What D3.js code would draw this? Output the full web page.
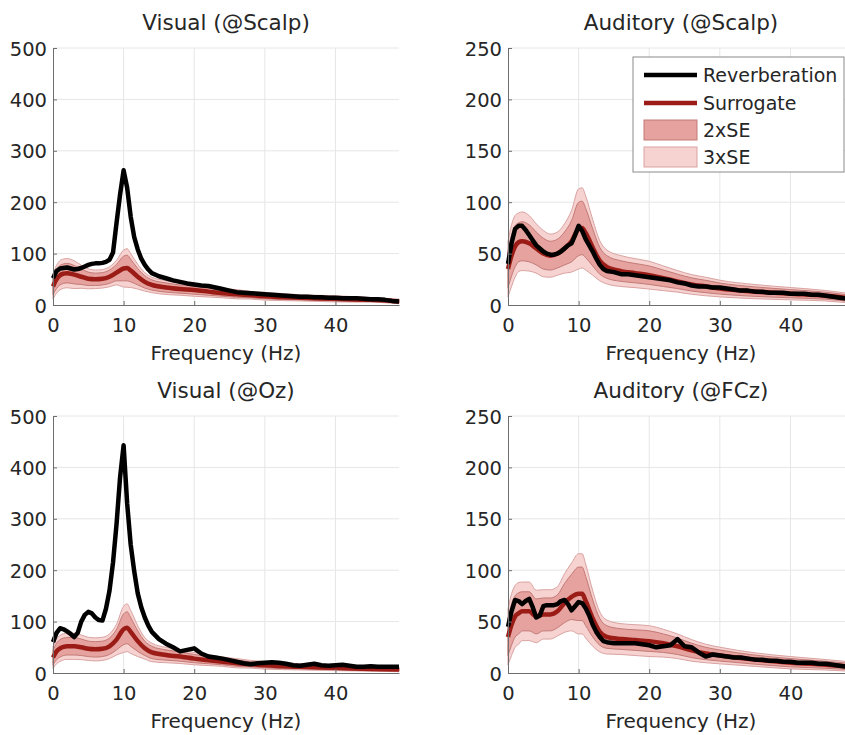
<!DOCTYPE html>
<html>
<head>
<meta charset="utf-8">
<script src="https://cdn.jsdelivr.net/npm/d3@7"></script>
<style>
    body { margin: 0; background: #fff; }
    svg text { font-family: 'DejaVu Sans', sans-serif; fill: #262626; }
</style>
</head>
<body>
<div id="fig"></div>
<script>
// Frequency grids (Hz)
const revFreq = [0, 0.5, 1, 1.5, 2, 2.5, 3, 3.5, 4, 4.5, 5, 5.5, 6, 6.5, 7, 7.5, 8, 8.5, 9, 9.5,
    10, 10.5, 11, 11.5, 12, 12.5, 13, 13.5, 14,
    15, 16, 17, 18, 19, 20, 21, 22, 23, 24, 25, 26, 27, 28, 29, 30, 31, 32, 33, 34,
    35, 36, 37, 38, 39, 40, 41, 42, 43, 44, 45, 46, 47, 48, 49];
const surrFreq = [0, 0.5, 1, 1.5, 2, 3, 4, 5, 6, 7, 8, 9, 10, 10.5, 11, 12, 13, 14, 16, 18,
    20, 22, 24, 26, 28, 30, 35, 40, 45, 49];

// Reverberation spectra (on revFreq)
const visScalpRev = [52, 66, 71, 72, 73, 71, 69, 70, 72, 75, 78, 80, 81, 81, 82, 84, 88, 102, 160, 215,
    262, 228, 172, 132, 108, 90, 78, 69, 62,
    56, 52, 48, 45, 42, 40, 38, 37, 34, 31, 28, 25, 24, 23, 22, 21, 20, 19, 18, 17,
    16, 16, 15, 15, 14, 14, 13, 13, 13, 12, 11, 11, 10, 8, 7];
const audScalpRev = [40, 60, 74, 77, 77, 73, 68, 63, 58, 55, 52, 50, 49, 49, 50, 52, 55, 58, 60, 68,
    77, 72, 64, 58, 52, 45, 39, 35, 33,
    32, 30, 30, 29, 28, 27, 26, 25, 24, 22, 21, 19, 18, 18, 17, 17, 16, 15, 14, 14,
    13, 13, 12, 12, 12, 11, 11, 11, 10, 10, 9, 8, 7, 6, 5];
const visOzRev = [60, 78, 87, 85, 81, 76, 70, 78, 100, 113, 119, 116, 108, 103, 102, 125, 160, 215, 290, 381,
    443, 330, 250, 198, 155, 128, 108, 92, 80,
    66, 57, 50, 42, 45, 48, 38, 32, 30, 28, 25, 22, 19, 17, 19, 20, 21, 20, 18, 15,
    14, 16, 18, 15, 14, 15, 16, 14, 12, 12, 13, 12, 12, 12, 12];
const audFCzRev = [45, 60, 71, 70, 67, 70, 72, 64, 54, 56, 65, 66, 66, 66, 67, 70, 71, 67, 61, 65,
    69, 68, 63, 56, 47, 40, 35, 31, 30,
    29, 29, 29, 29, 28, 27, 25, 26, 27, 33, 26, 25, 20, 16, 18, 17, 16, 15, 15, 14,
    13, 13, 12, 12, 11, 11, 10, 10, 10, 9, 9, 8, 7, 6, 5];

// Surrogate mean and standard error (on surrFreq)
const visScalpMean = [36, 50, 58, 61, 62, 59, 55, 51, 50, 51, 55, 63, 71, 72, 67, 55, 45, 39, 34, 31,
    29, 26, 23, 21, 19, 17, 14, 12, 10, 7];
const visScalpSE = [8, 9, 9.5, 9.5, 9.5, 9, 7.5, 6.5, 6, 6, 6.5, 8, 12, 12.5, 11, 8, 6, 5, 4.5, 4,
    4, 3.5, 3, 3, 2.5, 2.5, 2, 2, 1.5, 1.5];
const audScalpMean = [35, 48, 57, 61, 62, 60, 55, 50, 48, 50, 55, 62, 74, 75, 70, 56, 43, 37, 33, 31,
    29, 26, 23, 20, 18, 16, 13, 11, 9, 6];
const audScalpSE = [9, 10, 10, 9.5, 9.5, 9, 8, 7.5, 7, 7, 8, 10, 13, 13, 12, 9, 6.5, 5.5, 5, 4.7,
    4.5, 4, 3.5, 3.2, 3, 2.7, 2.3, 2, 1.7, 1.5];
const visOzMean = [30, 42, 48, 51, 52, 52, 50, 47, 46, 47, 52, 65, 85, 88, 80, 62, 48, 40, 35, 32,
    28, 25, 22, 19, 17, 15, 12, 10, 8, 7];
const visOzSE = [7, 8, 8.5, 8.5, 8.5, 8.5, 8, 7.5, 7.5, 7.5, 8, 10, 15, 15.5, 14, 10, 7, 6, 5, 4.5,
    4, 3.5, 3, 3, 2.5, 2.5, 2, 1.8, 1.5, 1.5];
const audFCzMean = [35, 47, 55, 58, 60, 60, 55, 57, 57, 60, 68, 74, 77, 77, 70, 53, 40, 35, 33, 32,
    31, 29, 26, 22, 19, 17, 13, 10, 8, 6];
const audFCzSE = [9, 10, 10, 10, 9.5, 9.5, 8.5, 8, 8, 8, 9.5, 11, 13, 13, 12, 9, 6.5, 5.5, 5, 5,
    5, 4.5, 4, 3.5, 3, 2.7, 2.2, 2, 1.7, 1.5];

// Axis ticks
const xTicks = [0, 10, 20, 30, 40];
const visTicks = [0, 100, 200, 300, 400, 500];
const audTicks = [0, 50, 100, 150, 200, 250];
const legendLabels = ['Reverberation', 'Surrogate', '2xSE', '3xSE'];

const X_MAX = 49;
const COLORS = { rev: '#000000', surr: '#9b1c16', se2: '#e5a29e', se2Edge: '#c27a76', se3: '#f6d2d1', se3Edge: '#d9a3a1' };

class SpectrumPanel
{
    left; top; width; height;
    g; scaleX; scaleY;

    constructor(svg, left, top, width, height) {
        this.left = left;
        this.top = top;
        this.width = width;
        this.height = height;
        this.g = svg.append('g')
            .attr('transform', `translate(${left}, ${top})`);
    }

    #updateScales(yTicks) {
        this.scaleX = d3.scaleLinear([0, X_MAX], [0, this.width]);
        this.scaleY = d3.scaleLinear([0, d3.max(yTicks)], [this.height, 0]);
    }

    #drawGrid(yTicks) {
        let grid = this.g.append('g').attr('stroke', '#e6e6e6').attr('stroke-width', 1);
        grid.selectAll('line.gx')
            .data(xTicks.filter(d => d > 0))
            .join('line')
            .attr('x1', d => this.scaleX(d)).attr('x2', d => this.scaleX(d))
            .attr('y1', 0).attr('y2', this.height);
        grid.selectAll('line.gy')
            .data(yTicks.filter(d => d > 0))
            .join('line')
            .attr('x1', 0).attr('x2', this.width)
            .attr('y1', d => this.scaleY(d)).attr('y2', d => this.scaleY(d));
    }

    #drawBands(mean, se) {
        let pts = surrFreq.map((f, i) => ({ f: f, m: mean[i], s: se[i] }));
        let band = k => d3.area()
            .x(d => this.scaleX(d.f))
            .y0(d => this.scaleY(Math.max(0, d.m - k * d.s)))
            .y1(d => this.scaleY(d.m + k * d.s))
            .curve(d3.curveMonotoneX);
        this.g.append('path').datum(pts)
            .attr('d', band(3))
            .attr('fill', COLORS.se3).attr('stroke', COLORS.se3Edge).attr('stroke-width', 1);
        this.g.append('path').datum(pts)
            .attr('d', band(2))
            .attr('fill', COLORS.se2).attr('stroke', COLORS.se2Edge).attr('stroke-width', 1);
        this.g.append('path').datum(pts)
            .attr('d', d3.line().x(d => this.scaleX(d.f)).y(d => this.scaleY(d.m)).curve(d3.curveMonotoneX))
            .attr('fill', 'none').attr('stroke', COLORS.surr).attr('stroke-width', 4.5);
    }

    #drawRev(rev) {
        this.g.append('path').datum(revFreq.map((f, i) => [f, rev[i]]))
            .attr('d', d3.line().x(d => this.scaleX(d[0])).y(d => this.scaleY(d[1])))
            .attr('fill', 'none').attr('stroke', COLORS.rev)
            .attr('stroke-width', 4.5).attr('stroke-linejoin', 'round');
    }

    #drawAxes(yTicks) {
        let axisX = this.g.append('g')
            .attr('transform', `translate(0, ${this.height})`)
            .call(d3.axisBottom(this.scaleX).tickValues(xTicks).tickSizeInner(-4).tickSizeOuter(0).tickPadding(13));
        let axisY = this.g.append('g')
            .call(d3.axisLeft(this.scaleY).tickValues(yTicks).tickSizeInner(-4).tickSizeOuter(0).tickPadding(6));
        [axisX, axisY].forEach(a => {
            a.attr('font-family', null).attr('font-size', null);
            a.select('.domain').attr('stroke', '#6e6e6e');
            a.selectAll('.tick line').attr('stroke', '#6e6e6e');
            a.selectAll('text').style('font-size', '19.5px');
        });
        axisY.selectAll('text').attr('dy', '0.36em');
    }

    render(p) {
        this.#updateScales(p.yTicks);
        this.#drawGrid(p.yTicks);
        this.#drawBands(p.mean, p.se);
        this.#drawRev(p.rev);
        this.#drawAxes(p.yTicks);

        this.g.append('text')
            .attr('x', this.scaleX(X_MAX / 2)).attr('y', -18.5)
            .attr('text-anchor', 'middle').style('font-size', '21.5px')
            .text(p.title);
        this.g.append('text')
            .attr('x', this.scaleX(X_MAX / 2)).attr('y', this.height + 55)
            .attr('text-anchor', 'middle').style('font-size', '20px')
            .text('Frequency (Hz)');
        return this;
    }

    addLegend(x, y, w, h) {
        let lg = this.g.append('g').attr('transform', `translate(${x - this.left}, ${y - this.top})`);
        lg.append('rect').attr('width', w).attr('height', h)
            .attr('fill', '#fff').attr('stroke', '#8a8a8a').attr('stroke-width', 1);
        let rows = [18, 46, 73, 100];
        legendLabels.forEach((label, i) => {
            if (i < 2) {
                lg.append('line')
                    .attr('x1', 11).attr('x2', 64).attr('y1', rows[i]).attr('y2', rows[i])
                    .attr('stroke', i === 0 ? COLORS.rev : COLORS.surr).attr('stroke-width', 4.5);
            } else {
                lg.append('rect')
                    .attr('x', 11).attr('y', rows[i] - 10).attr('width', 53).attr('height', 20)
                    .attr('fill', i === 2 ? COLORS.se2 : COLORS.se3)
                    .attr('stroke', i === 2 ? COLORS.se2Edge : COLORS.se3Edge);
            }
            lg.append('text')
                .attr('x', 70).attr('y', rows[i]).attr('dy', '0.36em')
                .style('font-size', '19px')
                .text(label);
        });
        return this;
    }
}

const svg = d3.select('#fig').append('svg')
    .attr('width', 845).attr('height', 735);

const panelW = 346, panelH = 257;

new SpectrumPanel(svg, 53, 48, panelW, panelH)
    .render({ title: 'Visual (@Scalp)', yTicks: visTicks, rev: visScalpRev, mean: visScalpMean, se: visScalpSE });
new SpectrumPanel(svg, 508, 48, panelW, panelH)
    .render({ title: 'Auditory (@Scalp)', yTicks: audTicks, rev: audScalpRev, mean: audScalpMean, se: audScalpSE })
    .addLegend(633, 57, 211, 115);
new SpectrumPanel(svg, 53, 416, panelW, panelH)
    .render({ title: 'Visual (@Oz)', yTicks: visTicks, rev: visOzRev, mean: visOzMean, se: visOzSE });
new SpectrumPanel(svg, 508, 416, panelW, panelH)
    .render({ title: 'Auditory (@FCz)', yTicks: audTicks, rev: audFCzRev, mean: audFCzMean, se: audFCzSE });
</script>
</body>
</html>
